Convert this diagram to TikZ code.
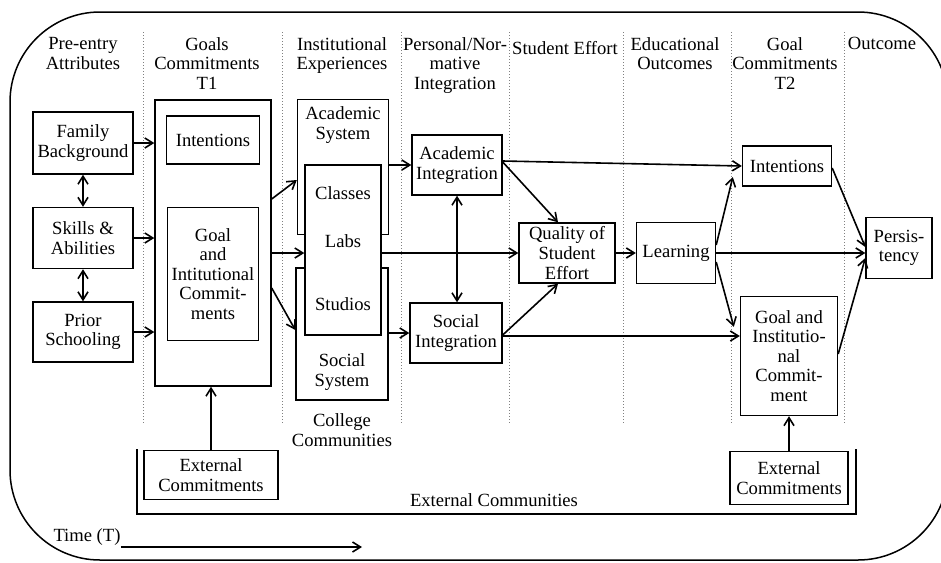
\documentclass[tikz,border=0pt]{standalone}
\usepackage{fontspec}
\setmainfont{Liberation Serif}
\usetikzlibrary{arrows.meta, calc, positioning}
\tikzset{
    box/.style={draw, rectangle, fill=white, align=center, inner sep=0pt, line width=0.7pt},
    wh/.style 2 args={minimum width=#1*0.5pt, minimum height=#2*0.5pt},
    txt/.style={align=center, inner sep=0pt},
    hdr/.style={align=center, inner sep=0pt, anchor=north},
    flow/.style={-{Straight Barb[length=4pt, width=5pt]}, line width=0.8pt},
    flowBoth/.style={{Straight Barb[length=4pt, width=5pt]}-{Straight Barb[length=4pt, width=5pt]}, line width=0.8pt},
    colSep/.style={densely dotted, gray, line width=0.5pt},
}
\newcommand{\linkTo}[3][flow]{
    \draw[#1] (#2) -- (#3);
}

\begin{document}
\begin{tikzpicture}[x=0.5pt, y=-0.5pt, font=\fontsize{9.3}{9.8}\selectfont]
        \useasboundingbox (0,0) rectangle (941,562);

        % outer frame and columns
        \draw[line width=0.75pt, rounded corners=45pt] (10,12) rectangle (948,560);
        \foreach \x in {143,282,401,509,623,731,844}
            \draw[colSep] (\x,32) -- (\x,425);

        \node[hdr] (hPre) at (83,37) {Pre-entry\\Attributes};
        \node[hdr] (hGoalA) at (207,37) {Goals\\Commitments\\T1};
        \node[hdr] (hInst) at (342,37) {Institutional\\Experiences};
        \node[hdr] (hPers) at (455,37) {Personal/Nor-\\mative\\Integration};
        \node[hdr] (hEff) at (565,41) {Student Effort};
        \node[hdr] (hEdu) at (675,37) {Educational\\Outcomes};
        \node[hdr] (hGoalB) at (785,37) {Goal\\Commitments\\T2};
        \node[hdr] (hOut) at (882,37) {Outcome};

        % pre-entry and T1
        \node[box, wh={100}{62}] (fam) at (83,143) {Family\\Background};
        \node[box, wh={100}{61}] (skill) at (83,238) {Skills \&\\Abilities};
        \node[box, wh={100}{60}] (prior) at (83,332) {Prior\\Schooling};
        \node[box, wh={116}{286}] (goalsT1) at (213,243) {};
        \node[box, wh={93}{48}] (intA) at (213,140) {Intentions};
        \node[box, wh={91}{133}] (gicA) at (213,274) {Goal\\and\\Intitutional\\Commit-\\ments};
        \node[box, wh={134}{49}] (extL) at (211,475) {External\\Commitments};

        % institutional experiences
        \node[box, wh={91}{135}] (acadSys) at (343,167) {};
        \node[box, wh={92}{132}] (socSys) at (342,334) {};
        \node[box, wh={76}{170}] (cls) at (343,250) {};
        \node[txt] (acadSysT) at (343,125) {Academic\\System};
        \node[txt] (socSysT) at (342,372) {Social\\System};
        \node[txt] (classesT) at (343,193) {Classes};
        \node[txt] (labsT) at (343,241) {Labs};
        \node[txt] (studiosT) at (343,304) {Studios};
        \node[txt] (college) at (342,430) {College\\Communities};

        % integration, effort, outcomes
        \node[box, wh={90}{60}] (acadInt) at (457,165) {Academic\\Integration};
        \node[box, wh={92}{60}] (socInt) at (456,333) {Social\\Integration};
        \node[box, wh={96}{60}] (qual) at (567,253) {Quality of\\Student\\Effort};
        \node[box, wh={79}{61}] (learn) at (676,253) {Learning};
        \node[box, wh={89}{40}] (intB) at (787,166) {Intentions};
        \node[box, wh={97}{119}] (gicB) at (789,356) {Goal and\\Institutio-\\nal\\Commit-\\ment};
        \node[box, wh={118}{53}] (extR) at (789,478) {External\\Commitments};
        \node[box, wh={66}{61}] (pers) at (899,248) {Persis-\\tency};

        % external communities
        \draw[line width=0.7pt] (137,449) |- (856,514) -- (856,449);
        \node[txt] (extComm) at (494,500) {External Communities};

        \node[txt] (time) at (87,537) {Time (T)};
        \coordinate (tEnd) at (362,547);
        \draw[flow] (time.east |- tEnd) -- (tEnd);

        \linkTo{fam.east}{goalsT1.west |- fam.east}
        \linkTo{skill.east}{goalsT1.west |- skill.east}
        \linkTo{prior.east}{goalsT1.west |- prior.east}
        \linkTo[flowBoth]{fam.south}{skill.north}
        \linkTo[flowBoth]{skill.south}{prior.north}
        \linkTo{extL.north}{goalsT1.south -| extL.north}
        \linkTo{goalsT1.east |- 0,199}{acadSys.west |- 0,180}
        \linkTo{goalsT1.east |- 0,253}{cls.west |- 0,253}
        \linkTo{goalsT1.east |- 0,288}{socSys.west |- 0,330}
        \linkTo{acadSys.east |- acadInt.west}{acadInt.west}
        \linkTo{socSys.east |- socInt.west}{socInt.west}
        \linkTo[flowBoth]{acadInt.south}{socInt.north -| acadInt.south}
        \linkTo{cls.east |- qual.west}{qual.west}
        \linkTo{acadInt.east |- 0,162}{qual.north -| 558,0}
        \linkTo{socInt.east |- 0,335}{qual.south -| 558,0}
        \linkTo{acadInt.east |- 0,161}{intB.west}
        \linkTo{socInt.east |- 0,336}{gicB.west |- 0,336}
        \linkTo{qual.east}{learn.west}
        \linkTo{learn.east |- 0,245}{$(intB.west)+(-9,11)$}
        \linkTo{learn.east |- 0,262}{$(gicB.north west)+(-6,31)$}
        \linkTo{learn.east}{pers.west |- learn.east}
        \linkTo{intB.east |- 0,168}{pers.west |- 0,247}
        \linkTo{gicB.east |- 0,354}{pers.west |- 0,258}
        \linkTo{extR.north}{gicB.south -| extR.north}

    \end{tikzpicture}
\end{document}
